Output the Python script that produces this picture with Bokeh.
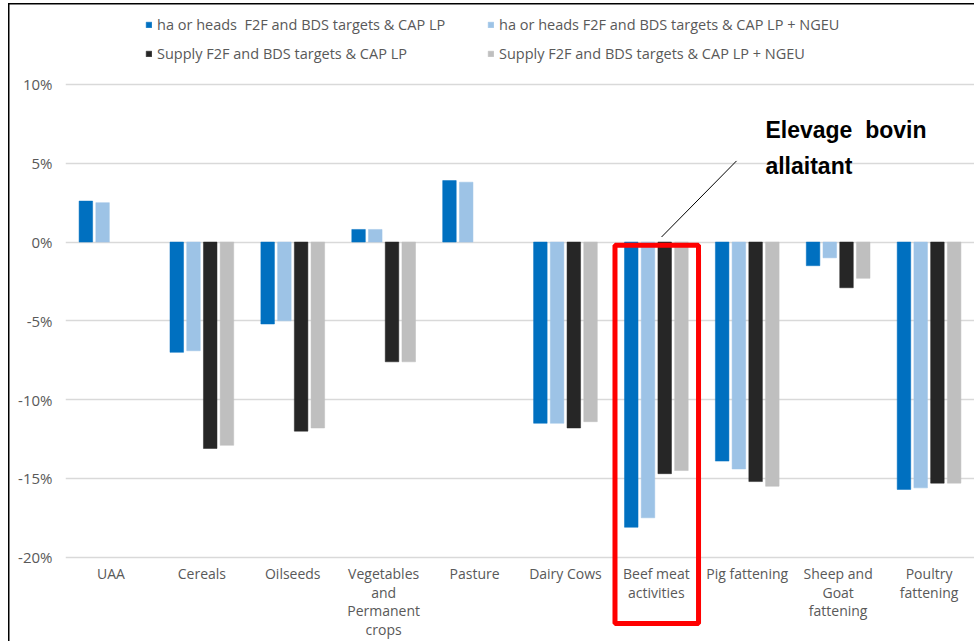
import numpy as np
from bokeh.plotting import figure
from bokeh.models import (FactorRange, Range1d, Legend, LegendItem, ColumnDataSource,
                          PrintfTickFormatter, FixedTicker, BoxAnnotation, Label)
from bokeh.core.properties import value
from bokeh.transform import dodge
from bokeh.embed import file_html
from bokeh.resources import INLINE

categories = ["UAA", "Cereals", "Oilseeds", "Vegetables\nand\nPermanent\ncrops", "Pasture",
              "Dairy Cows", "Beef meat\nactivities", "Pig fattening",
              "Sheep and\nGoat\nfattening", "Poultry\nfattening"]

series_names = ["ha or heads\u00a0 F2F and BDS targets & CAP LP",
                "ha or heads F2F and BDS targets & CAP LP + NGEU",
                "Supply F2F and BDS targets & CAP LP",
                "Supply F2F and BDS targets & CAP LP + NGEU"]
series_colors = ["#0070C0", "#9DC3E6", "#262626", "#BFBFBF"]

ha_cap = [2.6, -7.0, -5.2, 0.8, 3.9, -11.5, -18.1, -13.9, -1.5, -15.7]
ha_cap_ngeu = [2.5, -6.9, -5.0, 0.8, 3.8, -11.5, -17.5, -14.4, -1.0, -15.6]
supply_cap = [np.nan, -13.1, -12.0, -7.6, np.nan, -11.8, -14.7, -15.2, -2.9, -15.3]
supply_cap_ngeu = [np.nan, -12.9, -11.8, -7.6, np.nan, -11.4, -14.5, -15.5, -2.3, -15.3]

y_ticks = [-20, -15, -10, -5, 0, 5, 10]
axis_floor = -20

source = ColumnDataSource(dict(cat=categories, s0=ha_cap, s1=ha_cap_ngeu,
                               s2=supply_cap, s3=supply_cap_ngeu,
                               base=[axis_floor] * len(categories)))

p = figure(x_range=FactorRange(*categories), y_range=Range1d(-25.35, 15.33),
           width=974, height=641, output_backend="svg", toolbar_location=None,
           min_border_left=65, min_border_right=0, min_border_top=0, min_border_bottom=0)
p.outline_line_color = None
p.background_fill_alpha = 0
p.border_fill_alpha = 0
p.styles = {"background": "linear-gradient(#000,#000) 8px 3px / 1.5px 100% no-repeat, "
                          "linear-gradient(#000,#000) 8px 3px / 100% 1.5px no-repeat, #fff"}

offsets = [-0.276, -0.092, 0.092, 0.276]
renderers = []
for i, (key, col) in enumerate(zip(["s0", "s1", "s2", "s3"], series_colors)):
    r = p.vbar(x=dodge("cat", offsets[i], range=p.x_range), top=key, bottom=0, width=0.149,
               source=source, fill_color=col, line_color=col, line_width=0.5)
    renderers.append(r)

# category labels below the -20% line
p.text(x="cat", y="base", text="cat", source=source, text_align="center",
       text_baseline="top", y_offset=7, text_font=value("Open Sans"),
       text_font_size="14px", text_color="#595959", text_line_height=0.98)
p.xaxis.visible = False

# y axis
p.yaxis.ticker = FixedTicker(ticks=y_ticks)
p.yaxis.formatter = PrintfTickFormatter(format="%d%%")
p.yaxis.axis_line_color = None
p.yaxis.major_tick_line_color = None
p.yaxis.minor_tick_line_color = None
p.yaxis.major_label_text_font = "Open Sans"
p.yaxis.major_label_text_font_size = "15px"
p.yaxis.major_label_text_color = "#595959"
p.yaxis.major_label_standoff = 7

p.xgrid.grid_line_color = None
p.ygrid.grid_line_color = "#D9D9D9"
p.ygrid.grid_line_width = 1.3

# legend: columns filled top-down
order = [0, 2, 1, 3]
items = [LegendItem(label=series_names[i], renderers=[renderers[i]]) for i in order]
legend = Legend(items=items, location=(80, 578), orientation="vertical", ncols=2,
                glyph_width=7, glyph_height=7, label_standoff=5, label_width=320,
                spacing=10, label_height=16, padding=0, margin=0,
                label_text_font="Open Sans", label_text_font_size="14.5px",
                label_text_color="#595959", border_line_color=None,
                background_fill_alpha=0)
p.add_layout(legend, "center")

# annotation
box = BoxAnnotation(left=6.045, right=6.964, top=-0.2, bottom=-24.2,
                    fill_alpha=0, line_color="#FF0000", line_alpha=1, line_width=5)
p.add_layout(box)
p.segment(x0=[6.557], y0=[0.32], x1=[7.382], y1=[5.15], line_color="black", line_width=1)
for txt, yy in [("Elevage\u00a0 bovin", 7.1), ("allaitant", 4.85)]:
    p.add_layout(Label(x=7.70, y=yy, text=txt, text_font="Liberation Sans",
                       text_font_style="bold", text_font_size="23px",
                       text_color="black", text_baseline="alphabetic"))

open("out.html", "w").write(file_html(p, INLINE))
